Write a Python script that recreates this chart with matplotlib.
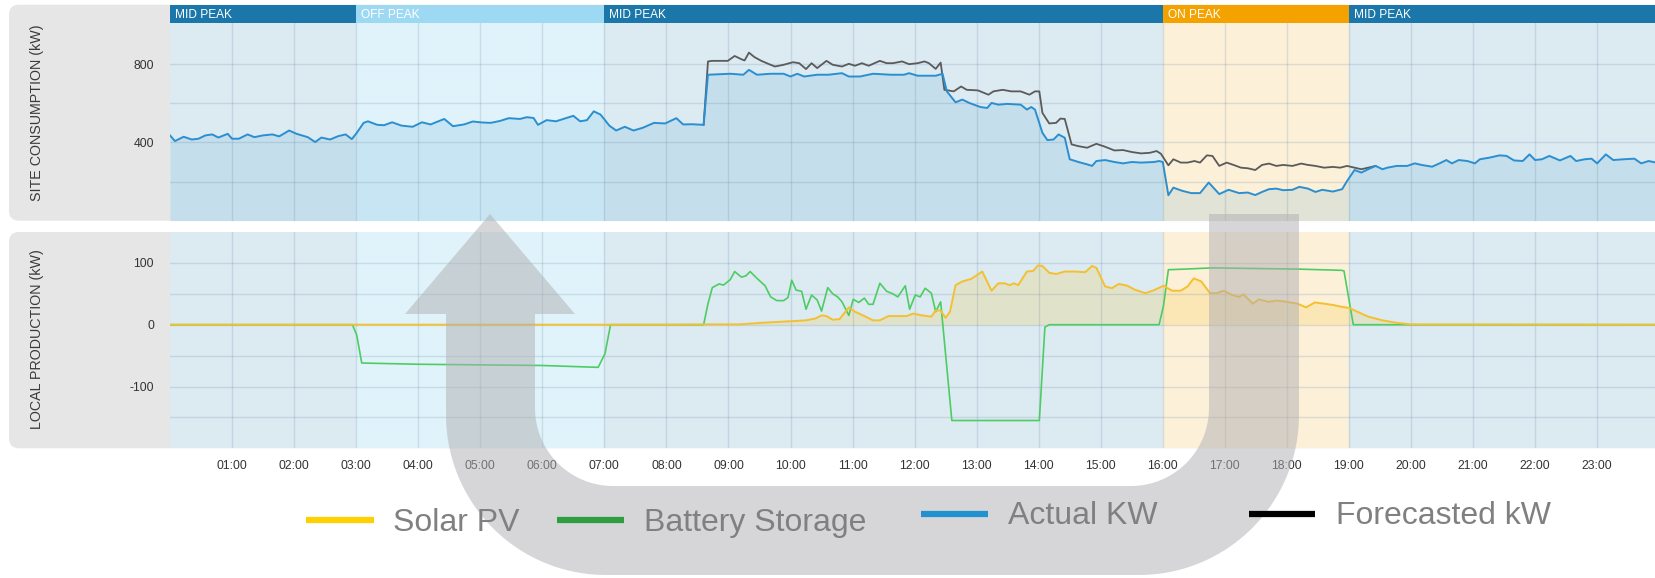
import numpy as np
import matplotlib
matplotlib.use("Agg")
import matplotlib.pyplot as plt
from matplotlib.patches import FancyBboxPatch, Polygon
from matplotlib.lines import Line2D

W, H = 1656, 578
NARROW = ['Liberation Sans Narrow', 'Liberation Sans', 'DejaVu Sans']
REG = ['Liberation Sans', 'DejaVu Sans']

# ---------------- data ----------------
period_names = ["MID PEAK", "OFF PEAK", "MID PEAK", "ON PEAK", "MID PEAK"]
period_start = [0, 3, 7, 16, 19]
period_end = [3, 7, 16, 19, 24]
period_kind = ["mid", "off", "mid", "on", "mid"]

hour_ticks = list(range(1, 24))
hour_labels = ["01:00", "02:00", "03:00", "04:00", "05:00", "06:00", "07:00", "08:00",
               "09:00", "10:00", "11:00", "12:00", "13:00", "14:00", "15:00", "16:00",
               "17:00", "18:00", "19:00", "20:00", "21:00", "22:00", "23:00"]

actual_t = [0.00, 0.08, 0.22, 0.35, 0.46, 0.57, 0.68, 0.78, 0.93, 1.00, 1.11, 1.25, 1.36, 1.50,
            1.65, 1.76, 1.92, 2.04, 2.22, 2.34, 2.44, 2.58, 2.71, 2.83, 2.93, 3.01, 3.12, 3.19,
            3.34, 3.45, 3.58, 3.73, 3.91, 4.06, 4.20, 4.42, 4.56, 4.74, 4.88, 5.03, 5.17, 5.32,
            5.46, 5.64, 5.75, 5.86, 5.93, 6.07, 6.22, 6.36, 6.50, 6.61, 6.72, 6.83, 6.94, 7.08,
            7.19, 7.33, 7.47, 7.62, 7.80, 7.98, 8.16, 8.27, 8.41, 8.60, 8.67, 9.03, 9.24, 9.33,
            9.46, 9.68, 9.89, 10.00, 10.11, 10.22, 10.43, 10.61, 10.83, 10.94, 11.12, 11.33,
            11.62, 11.83, 11.91, 12.05, 12.34, 12.45, 12.52, 12.66, 12.77, 12.88, 13.06, 13.17,
            13.24, 13.35, 13.49, 13.71, 13.81, 13.88, 13.94, 14.06, 14.14, 14.24, 14.32, 14.42,
            14.50, 14.64, 14.78, 14.86, 14.93, 15.07, 15.22, 15.36, 15.50, 15.65, 15.86, 15.94,
            16.00, 16.09, 16.17, 16.31, 16.46, 16.60, 16.74, 16.91, 17.06, 17.23, 17.37, 17.49,
            17.60, 17.71, 17.83, 17.94, 18.09, 18.20, 18.34, 18.46, 18.57, 18.74, 18.89, 18.97,
            19.09, 19.20, 19.31, 19.43, 19.54, 19.62, 19.77, 19.94, 20.06, 20.17, 20.34, 20.46,
            20.57, 20.66, 20.77, 20.91, 21.03, 21.11, 21.26, 21.43, 21.54, 21.66, 21.80, 21.91,
            22.00, 22.11, 22.23, 22.40, 22.57, 22.66, 22.80, 22.91, 23.00, 23.14, 23.26, 23.43,
            23.60, 23.71, 23.83, 23.95]
actual_kw = [436, 407, 429, 415, 419, 436, 441, 425, 444, 419, 419, 441, 427, 436,
             441, 431, 461, 444, 427, 402, 425, 415, 432, 441, 417, 449, 500, 508,
             490, 488, 503, 486, 480, 503, 492, 520, 483, 492, 507, 502, 500, 510,
             524, 520, 529, 525, 490, 514, 508, 522, 536, 508, 514, 559, 542, 486,
             461, 480, 461, 475, 500, 497, 524, 492, 493, 490, 746, 751, 746, 771,
             746, 751, 751, 737, 751, 737, 746, 746, 754, 737, 737, 751,
             746, 746, 754, 741, 741, 751, 661, 605, 619, 602, 581, 576,
             602, 593, 597, 593, 568, 581, 568, 449, 412, 415, 441, 424,
             314, 300, 288, 280, 305, 310, 300, 293, 300, 297, 300, 305,
             300, 130, 169, 153, 141, 141, 195, 136, 158, 141, 144, 131,
             147, 161, 164, 156, 158, 173, 164, 147, 158, 149, 161, 203,
             259, 246, 263, 280, 263, 271, 280, 280, 293, 285, 276, 293,
             310, 293, 310, 305, 293, 314, 322, 334, 331, 308, 305, 339,
             310, 314, 331, 308, 331, 305, 314, 317, 293, 339, 310, 314,
             317, 293, 305, 297]

forecast_t = [8.60, 8.67, 8.74, 8.99, 9.10, 9.21, 9.26, 9.33, 9.42, 9.53, 9.64, 9.75, 9.89,
              10.04, 10.14, 10.25, 10.34, 10.43, 10.58, 10.68, 10.83, 10.94, 11.04, 11.15,
              11.26, 11.44, 11.55, 11.65, 11.80, 11.91, 12.05, 12.16, 12.23, 12.34, 12.42,
              12.48, 12.63, 12.75, 12.84, 13.02, 13.19, 13.27, 13.42, 13.56, 13.71, 13.85,
              13.94, 14.01, 14.06, 14.17, 14.28, 14.35, 14.42, 14.53, 14.64, 14.78, 14.93,
              15.07, 15.22, 15.36, 15.50, 15.65, 15.79, 15.90, 15.97, 16.09, 16.17, 16.29,
              16.40, 16.51, 16.60, 16.71, 16.80, 16.91, 17.03, 17.14, 17.26, 17.37, 17.49,
              17.60, 17.71, 17.83, 17.94, 18.09, 18.23, 18.34, 18.46, 18.60, 18.74, 18.86,
              18.97, 19.09, 19.20, 19.31, 19.43]
forecast_kw = [490, 814, 817, 817, 842, 825, 819, 859, 836, 817, 802, 788, 797,
               810, 805, 775, 805, 780, 817, 797, 788, 802, 792, 805,
               792, 817, 805, 805, 814, 800, 805, 814, 805, 776, 808,
               669, 661, 686, 669, 666, 644, 661, 669, 661, 661, 644,
               661, 661, 551, 497, 500, 522, 520, 390, 381, 373, 393,
               378, 359, 361, 351, 344, 347, 356, 342, 283, 314, 297,
               297, 305, 297, 334, 331, 280, 297, 285, 271, 268, 259,
               285, 292, 280, 285, 280, 292, 285, 280, 271, 275, 271,
               280, 271, 263, 271, 280]

battery_t = [0.0, 2.94, 3.01, 3.09, 4.0, 5.0, 6.0, 6.90, 7.01, 7.10, 8.60, 8.67, 8.74, 8.85,
             8.92, 9.03, 9.10, 9.21, 9.28, 9.35, 9.46, 9.59, 9.68, 9.78, 9.89, 9.96, 10.02,
             10.09, 10.18, 10.25, 10.34, 10.43, 10.50, 10.60, 10.68, 10.76, 10.83, 10.94,
             11.01, 11.10, 11.19, 11.26, 11.33, 11.44, 11.55, 11.65, 11.73, 11.85, 11.92,
             12.01, 12.09, 12.17, 12.27, 12.34, 12.42, 12.60, 14.01, 14.10, 14.17, 15.94,
             16.01, 16.09, 16.37, 16.80, 17.45, 18.17, 18.88, 18.92, 19.07, 23.95]
battery_kw = [0, 0, -17, -62, -64, -65, -66, -69, -47, 0, 0, 34, 60, 66,
              64, 73, 86, 77, 79, 86, 75, 63, 45, 39, 39, 44, 72,
              56, 54, 25, 48, 40, 22, 60, 50, 45, 37, 15,
              41, 36, 43, 33, 33, 67, 54, 50, 45, 63, 25,
              48, 45, 59, 51, 21, 37, -155, -155, -4, 0, 0,
              30, 89, 90, 92, 91, 90, 88, 87, 0, 0]

solar_t = [0.0, 8.0, 8.6, 9.17, 9.53, 9.89, 10.25, 10.40, 10.50, 10.58, 10.68, 10.79, 10.94,
           11.04, 11.19, 11.33, 11.44, 11.58, 11.73, 11.87, 11.98, 12.12, 12.27, 12.34, 12.42,
           12.50, 12.57, 12.66, 12.77, 12.91, 13.09, 13.24, 13.35, 13.45, 13.53, 13.60, 13.67,
           13.81, 13.91, 13.99, 14.06, 14.17, 14.28, 14.42, 14.57, 14.75, 14.86, 14.93, 15.07,
           15.18, 15.29, 15.43, 15.54, 15.72, 15.86, 16.01, 16.15, 16.29, 16.40, 16.50, 16.62,
           16.76, 16.87, 16.98, 17.12, 17.23, 17.30, 17.45, 17.55, 17.70, 17.84, 17.99, 18.17,
           18.31, 18.45, 18.60, 18.74, 18.88, 19.01, 19.09, 19.31, 19.54, 19.77, 20.0, 23.95]
solar_kw = [0, 0, 0.5, 0.5, 3, 5, 7, 10, 15, 14, 8, 9, 28,
            21, 14, 7, 7, 14, 14, 14, 18, 15, 13, 23, 23,
            11, 21, 64, 70, 74, 86, 55, 67, 67, 64, 67, 64,
            86, 87, 96, 95, 84, 82, 86, 86, 85, 95, 92, 62,
            59, 66, 63, 57, 51, 56, 63, 55, 55, 62, 75, 70,
            51, 51, 55, 48, 45, 49, 34, 41, 37, 39, 37, 34,
            28, 36, 34, 32, 29, 27, 23, 13, 7, 3, 0.5, 0]

legend_labels = ["Solar PV", "Battery Storage", "Actual KW", "Forecasted kW"]
legend_colors = ["#ffd000", "#2e9e40", "#2191d0", "#000000"]

# ---------------- styling ----------------
bg_colors = {"mid": "#dceaf2", "off": "#e0f3fa", "on": "#fdf0d9"}
hdr_colors = {"mid": "#1b77a9", "off": "#9ed9f3", "on": "#f3a200"}
XMAX = (W - 170) / 62.05

fig = plt.figure(figsize=(W / 100, H / 100), dpi=100)


def px_axes(x0, y0, x1, y1, **kw):
    return fig.add_axes([x0 / W, 1 - y1 / H, (x1 - x0) / W, (y1 - y0) / H], **kw)


bg = px_axes(0, 0, W, H, zorder=0)
bg.set_xlim(0, W)
bg.set_ylim(H, 0)
bg.axis('off')
bg.add_patch(FancyBboxPatch((9, 4.7), 1720, 216, boxstyle='round,pad=0,rounding_size=10',
                            fc='#e6e6e6', ec='none'))
bg.add_patch(FancyBboxPatch((9, 232), 1720, 216.3, boxstyle='round,pad=0,rounding_size=10',
                            fc='#e6e6e6', ec='none'))
bg.text(37, 112.5, "SITE CONSUMPTION (kW)", rotation=90, ha='center', va='center',
        fontsize=10.3, color='#3a3a3a', family=REG)
bg.text(37, 339.5, "LOCAL PRODUCTION (kW)", rotation=90, ha='center', va='center',
        fontsize=10.3, color='#3a3a3a', family=REG)

# header band
hdr = px_axes(170, 4.7, W, 22.7, zorder=1)
hdr.set_xlim(0, XMAX)
hdr.set_ylim(0, 1)
hdr.axis('off')
for name, s, e, k in zip(period_names, period_start, period_end, period_kind):
    hdr.axvspan(s, e, color=hdr_colors[k], lw=0)
    hdr.text(s + 0.08, 0.45, name, color='white', fontsize=8.6, va='center', ha='left',
             family=NARROW)

top = px_axes(170, 22.7, W, 220.7, zorder=1)
bot = px_axes(170, 232, W, 448.3, zorder=1)

for ax in (top, bot):
    ax.set_xlim(0, XMAX)
    for name, s, e, k in zip(period_names, period_start, period_end, period_kind):
        ax.axvspan(s, e, color=bg_colors[k], lw=0, zorder=0.5)
    for sp in ax.spines.values():
        sp.set_visible(False)
    ax.set_axisbelow('line')
    ax.grid(True, color='#5f8199', alpha=0.2, lw=1)
    ax.tick_params(length=0, labelsize=8.8, labelcolor='#333333')
    ax.set_xticks(hour_ticks)

top.set_ylim(0, 1012)
top.set_yticks([200, 400, 600, 800])
top.set_yticklabels(['', '400', '', '800'], family=NARROW)
top.set_xticklabels([])
top.tick_params(axis='y', pad=11.5)

bot.set_ylim(-200, 150)
bot.set_yticks([-150, -100, -50, 0, 50, 100])
bot.set_yticklabels(['', '-100', '', '0', '', '100'], family=NARROW)
bot.set_xticklabels(hour_labels, family=NARROW)
bot.tick_params(axis='y', pad=11.5)
bot.tick_params(axis='x', pad=8.5)

top.fill_between(actual_t, 0, actual_kw, color='#1e88c8', alpha=0.12, lw=0, zorder=1)
top.plot(forecast_t, forecast_kw, color='#5a5a5a', lw=1.3, zorder=2)
top.plot(actual_t, actual_kw, color='#2a8fd0', lw=1.4, zorder=3)

bot.fill_between(solar_t, 0, solar_kw, color='#f6c22c', alpha=0.2, lw=0, zorder=1)
bot.plot(battery_t, battery_kw, color='#4ccd63', lw=1.2, zorder=2)
bot.plot(solar_t, solar_kw, color='#f5c030', lw=1.4, zorder=3)

# overlay U arrow
ov = px_axes(0, 0, W, H, zorder=5)
ov.set_xlim(0, W)
ov.set_ylim(H, 0)
ov.axis('off')


def arc(cx, cy, r, a0, a1, n=40):
    a = np.radians(np.linspace(a0, a1, n))
    return list(zip(cx + r * np.cos(a), cy + r * np.sin(a)))


Ri, Ro = 78, 160
pts = [(490, 214), (575, 314), (535, 314)]
pts += arc(535 + Ri, 486 - Ri, Ri, 180, 90)
pts += arc(1209 - Ri, 486 - Ri, Ri, 90, 0)
pts += [(1209, 214), (1299, 214)]
pts += arc(1299 - Ro, 575 - Ro, Ro, 0, 90)
pts += arc(446 + Ro, 575 - Ro, Ro, 90, 180)
pts += [(446, 314), (405, 314)]
ov.add_patch(Polygon(pts, closed=True, fc=(0.686, 0.686, 0.697), alpha=0.5, ec='none', zorder=1))

# legend
leg_line_x = [(306, 374), (557, 624), (921, 988), (1249, 1315)]
leg_line_y = [520, 520, 514, 514]
leg_text_x = [393, 644, 1008, 1336]
leg_base_y = [531, 531, 524, 524]
for lab, col, (x0, x1), ly, tx, by in zip(legend_labels, legend_colors, leg_line_x, leg_line_y,
                                           leg_text_x, leg_base_y):
    ov.add_line(Line2D([x0, x1], [ly, ly], color=col, lw=4.5, solid_capstyle='butt', zorder=3))
    ov.text(tx, by, lab, fontsize=23, color='#808080', va='baseline', ha='left',
            family=NARROW, zorder=3)

fig.savefig("out.png", dpi=100)
